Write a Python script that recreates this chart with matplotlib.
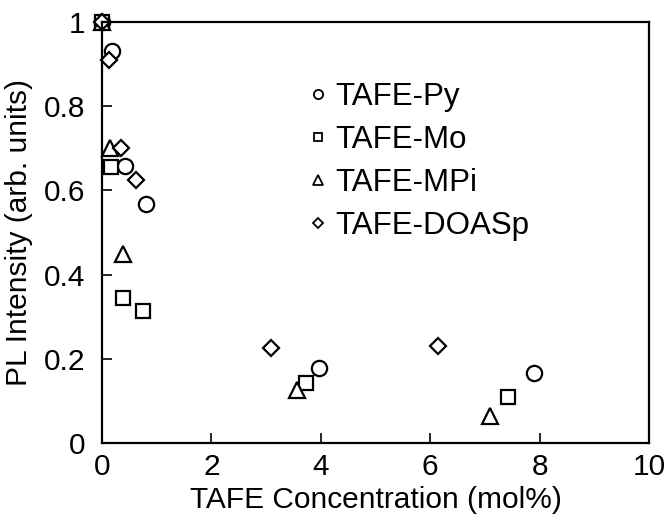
import matplotlib
matplotlib.use("Agg")
import matplotlib.pyplot as plt

plt.rcParams['font.family'] = ['Liberation Sans', 'DejaVu Sans']

py_x = [0.0, 0.18, 0.42, 0.81, 3.96, 7.89]
py_y = [1.0, 0.93, 0.658, 0.568, 0.178, 0.166]
mo_x = [0.0, 0.17, 0.38, 0.75, 3.73, 7.42]
mo_y = [1.0, 0.656, 0.344, 0.313, 0.143, 0.11]
mpi_x = [0.0, 0.15, 0.38, 3.57, 7.09]
mpi_y = [1.0, 0.70, 0.45, 0.126, 0.064]
doa_x = [0.0, 0.13, 0.35, 0.62, 3.09, 6.14]
doa_y = [1.0, 0.91, 0.70, 0.625, 0.226, 0.23]

labels = ['TAFE-Py', 'TAFE-Mo', 'TAFE-MPi', 'TAFE-DOASp']
xticks = [0, 2, 4, 6, 8, 10]
yticks = [0, 0.2, 0.4, 0.6, 0.8, 1]
yticklabels = ['0', '0.2', '0.4', '0.6', '0.8', '1']

fig = plt.figure(figsize=(6.68, 5.20), dpi=100)
ax = fig.add_axes([0.1527, 0.148, 0.8189, 0.810])

series = [(py_x, py_y, 'o', 11), (mo_x, mo_y, 's', 10.5),
          (mpi_x, mpi_y, '^', 11), (doa_x, doa_y, 'D', 8)]
for (x, y, m, ms), lab in zip(series, labels):
    ax.plot(x, y, linestyle='none', marker=m, markersize=ms, markerfacecolor='white',
            markeredgecolor='black', markeredgewidth=1.6, label=lab, clip_on=False)

ax.set_xlim(0, 10)
ax.set_ylim(0, 1)
ax.set_xticks(xticks)
ax.set_xticklabels([str(t) for t in xticks])
ax.set_yticks(yticks)
ax.set_yticklabels(yticklabels)
ax.tick_params(direction='in', length=7, width=1.2, labelsize=21.5)
ax.tick_params(axis='x', pad=7)
ax.tick_params(axis='y', pad=12)
for s in ax.spines.values():
    s.set_linewidth(1.6)
ax.set_xlabel('TAFE Concentration (mol%)', fontsize=21.5, labelpad=4)
ax.set_ylabel('PL Intensity (arb. units)', fontsize=21.5, labelpad=8)

leg = ax.legend(loc='upper left', bbox_to_anchor=(0.349, 0.887), frameon=False,
                fontsize=22.5, markerscale=0.6, handlelength=0.8, handletextpad=0.15,
                labelspacing=0.42, borderaxespad=0)
for h in leg.legend_handles:
    h.set_markeredgewidth(1.3)

fig.savefig('out.png', dpi=100)
